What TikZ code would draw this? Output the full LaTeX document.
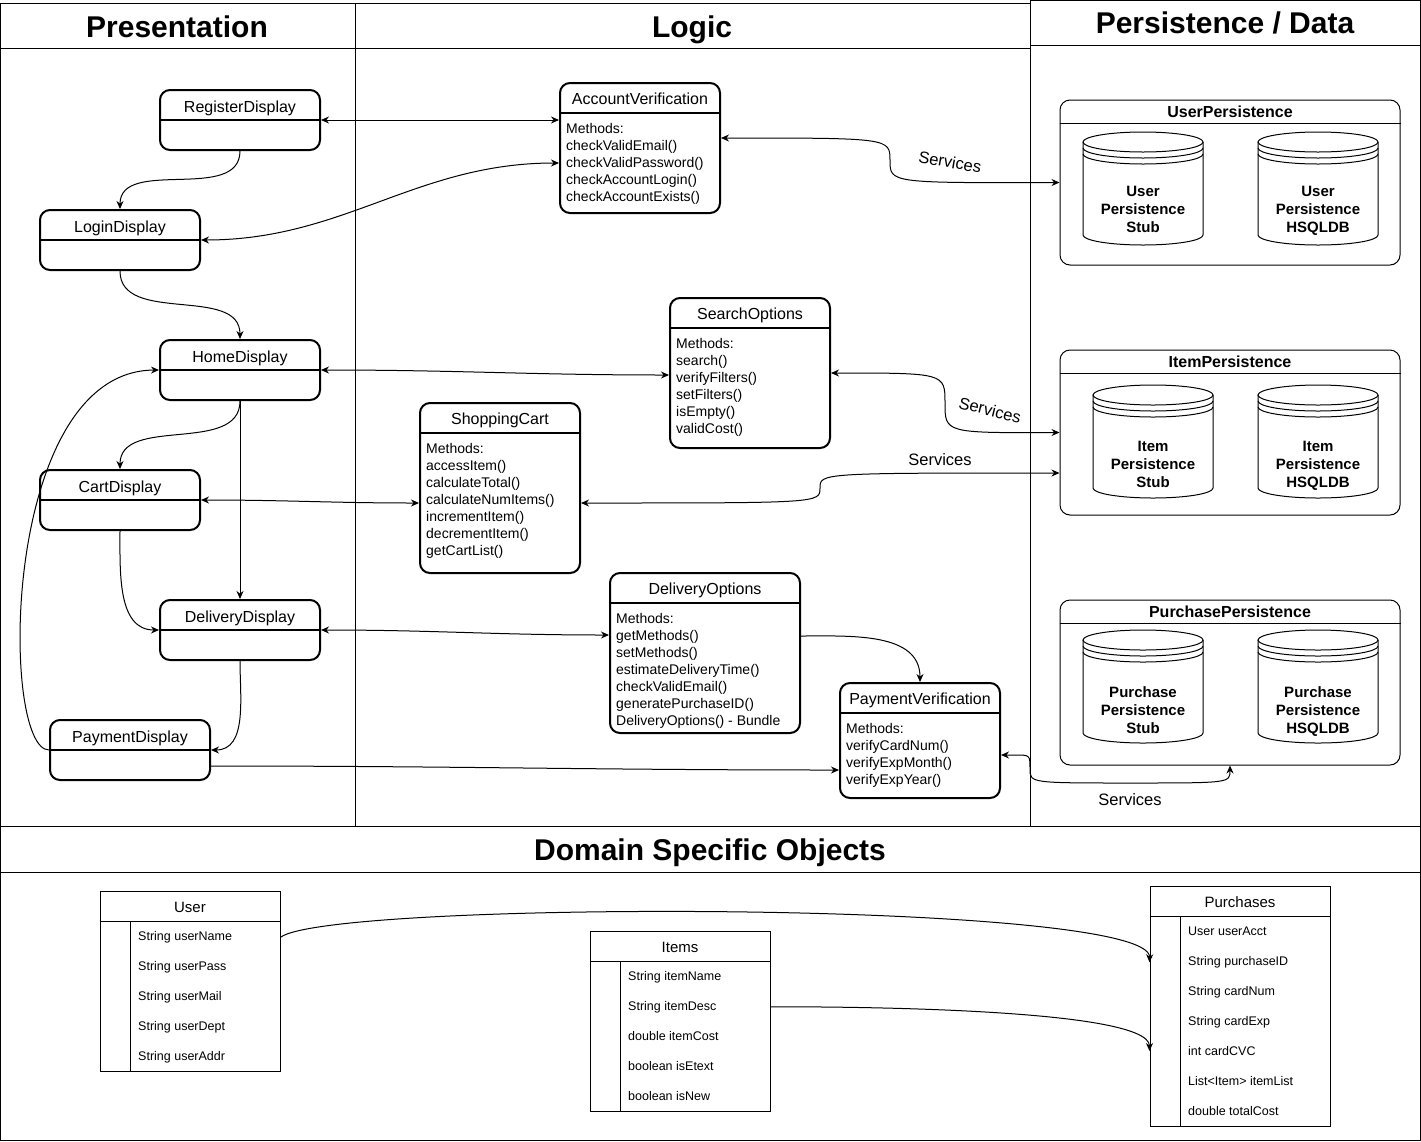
\documentclass[tikz,border=0pt]{standalone}
\usepackage{fontspec}
\setmainfont{Liberation Sans}
\usetikzlibrary{arrows.meta, positioning}

\begin{document}
\begin{tikzpicture}[x=1pt, y=-1pt]
\tikzstyle{lane} = [draw, line width=1pt]
\tikzstyle{lanetitle} = [anchor=base, inner sep=0pt, font=\fontsize{30}{35}\selectfont\bfseries]
\tikzstyle{screen} = [
	draw, rounded corners=10pt, line width=2pt,
	minimum width=160pt, inner sep=0pt,
	text height=22pt, text depth=38pt, %text sits in the upper half
	font=\fontsize{16}{19}\selectfont
]
\tikzstyle{logic} = [draw, rounded corners=10pt, line width=2pt, minimum width=160pt, inner sep=0pt]
\tikzstyle{logictitle} = [anchor=base, inner sep=0pt, font=\fontsize{16}{19}\selectfont]
\tikzstyle{methods} = [anchor=north west, align=left, inner sep=0pt, font=\fontsize{14}{17}\selectfont]
\tikzstyle{store} = [draw, rounded corners=10pt, line width=1pt, minimum width=340pt, minimum height=165pt, inner sep=0pt]
\tikzstyle{storetitle} = [anchor=base, inner sep=0pt, font=\fontsize{16}{19}\selectfont\bfseries]
\tikzstyle{dbtext} = [anchor=north, align=center, inner sep=0pt, font=\fontsize{15}{18}\selectfont\bfseries]
\tikzstyle{entity} = [draw, line width=1pt, minimum width=180pt, inner sep=0pt]
\tikzstyle{entitytitle} = [anchor=base, inner sep=0pt, font=\fontsize{15}{18}\selectfont]
\tikzstyle{field} = [anchor=base west, inner sep=0pt, font=\fontsize{12.5}{15}\selectfont]
\tikzstyle{services} = [inner sep=0pt, font=\fontsize{16.5}{20}\selectfont]
\tikzstyle{link} = [line width=1pt, -{Stealth[length=8pt,width=7pt]}]
\tikzstyle{duplex} = [line width=1pt, {Stealth[length=8pt,width=7pt]}-{Stealth[length=8pt,width=7pt]}]

\useasboundingbox (0,0) rectangle (1421,1141);

%lanes
\draw[lane] (0.5,3) rectangle (355,826);
\draw[lane] (0.5,48) -- (355,48);
\draw[lane] (355,3) rectangle (1030,826);
\draw[lane] (355,48) -- (1030,48);
\draw[lane] (1030,0.5) rectangle (1420,826);
\draw[lane] (1030,45) -- (1420,45);
\draw[lane] (0.5,826) rectangle (1420,1140);
\draw[lane] (0.5,872) -- (1420,872);
\node[lanetitle] (PresT) at (177,37.5) {Presentation};
\node[lanetitle] (LogicT) at (692,37.5) {Logic};
\node[lanetitle] (PersT) at (1225,33.5) {Persistence / Data};
\node[lanetitle] (DomT) at (710,860.5) {Domain Specific Objects};

%presentation
\node[screen] (Register) at (240,120) {RegisterDisplay};
\node[screen] (Login) at (120,240) {LoginDisplay};
\node[screen] (Home) at (240,370) {HomeDisplay};
\node[screen] (Cart) at (120,500) {CartDisplay};
\node[screen] (Delivery) at (240,630) {DeliveryDisplay};
\node[screen] (Payment) at (130,750) {PaymentDisplay};
\foreach \s in {Register, Login, Home, Cart, Delivery, Payment}
	\draw[line width=2pt] (\s.west) -- (\s.east);

%logic
\node[logic, minimum height=130pt] (AccVer) at (640,148) {};
\draw[line width=2pt] (AccVer.west |- 0,113) -- (AccVer.east |- 0,113);
\node[logictitle] (AccVerT) at (640,104.5) {AccountVerification};
\node[methods] (AccVerM) at (566,123) {Methods:\\checkValidEmail()\\checkValidPassword()\\checkAccountLogin()\\checkAccountExists()};

\node[logic, minimum height=150pt] (Search) at (750,373) {};
\draw[line width=2pt] (Search.west |- 0,328) -- (Search.east |- 0,328);
\node[logictitle] (SearchT) at (750,319.5) {SearchOptions};
\node[methods] (SearchM) at (676,338) {Methods:\\search()\\verifyFilters()\\setFilters()\\isEmpty()\\validCost()};

\node[logic, minimum height=170pt] (ShopCart) at (500,488) {};
\draw[line width=2pt] (ShopCart.west |- 0,433) -- (ShopCart.east |- 0,433);
\node[logictitle] (ShopCartT) at (500,424.5) {ShoppingCart};
\node[methods] (ShopCartM) at (426,443) {Methods:\\accessItem()\\calculateTotal()\\calculateNumItems()\\incrementItem()\\decrementItem()\\getCartList()};

\node[logic, minimum width=190pt, minimum height=160pt] (DelOpt) at (705,653) {};
\draw[line width=2pt] (DelOpt.west |- 0,603) -- (DelOpt.east |- 0,603);
\node[logictitle] (DelOptT) at (705,594.5) {DeliveryOptions};
\node[methods] (DelOptM) at (616,613) {Methods:\\getMethods()\\setMethods()\\estimateDeliveryTime()\\checkValidEmail()\\generatePurchaseID()\\DeliveryOptions() - Bundle};

\node[logic, minimum height=115pt] (PayVer) at (920,740.5) {};
\draw[line width=2pt] (PayVer.west |- 0,713) -- (PayVer.east |- 0,713);
\node[logictitle] (PayVerT) at (920,704.5) {PaymentVerification};
\node[methods] (PayVerM) at (846,723) {Methods:\\verifyCardNum()\\verifyExpMonth()\\verifyExpYear()};

%persistence
\node[store] (UserPers) at (1230,182.5) {};
\draw[line width=1pt] (UserPers.west |- 0,123) -- (UserPers.east |- 0,123);
\node[storetitle] (UserPersT) at (1230,117.5) {UserPersistence};
\node[store] (ItemPers) at (1230,432.5) {};
\draw[line width=1pt] (ItemPers.west |- 0,373) -- (ItemPers.east |- 0,373);
\node[storetitle] (ItemPersT) at (1230,367.5) {ItemPersistence};
\node[store] (PurchPers) at (1230,682.5) {};
\draw[line width=1pt] (PurchPers.west |- 0,623) -- (PurchPers.east |- 0,623);
\node[storetitle] (PurchPersT) at (1230,617.5) {PurchasePersistence};

%data stores
\foreach \cx/\ty in {1143/132, 1318/132, 1153/385, 1318/385, 1143/630, 1318/630} {
	\draw[line width=1pt] (\cx,\ty+10) ellipse [x radius=60pt, y radius=10pt];
	\draw[line width=1pt] (\cx-60,\ty+10) -- (\cx-60,\ty+103)
		arc[start angle=180, end angle=360, x radius=60pt, y radius=10pt] -- (\cx+60,\ty+10);
	\draw[line width=1pt] (\cx-60,\ty+16) arc[start angle=180, end angle=360, x radius=60pt, y radius=10pt];
	\draw[line width=1pt] (\cx-60,\ty+22) arc[start angle=180, end angle=360, x radius=60pt, y radius=10pt];
}
\node[dbtext] (UserStub) at (1143,186) {User\\Persistence\\Stub};
\node[dbtext] (UserDB) at (1318,186) {User\\Persistence\\HSQLDB};
\node[dbtext] (ItemStub) at (1153,441) {Item\\Persistence\\Stub};
\node[dbtext] (ItemDB) at (1318,441) {Item\\Persistence\\HSQLDB};
\node[dbtext] (PurchStub) at (1143,686) {Purchase\\Persistence\\Stub};
\node[dbtext] (PurchDB) at (1318,686) {Purchase\\Persistence\\HSQLDB};

%domain objects
\node[entity, minimum height=180pt] (User) at (190,981) {};
\draw[line width=1pt] (User.west |- 0,921) -- (User.east |- 0,921);
\draw[line width=1pt] (130,921) -- (130,1071);
\node[entitytitle] (UserT) at (190,912.5) {User};
\foreach \f [count=\i] in {String userName, String userPass, String userMail, String userDept, String userAddr}
	\node[field] (user\i) at (138,910.5+30*\i) {\f};

\node[entity, minimum height=180pt] (Items) at (680,1021) {};
\draw[line width=1pt] (Items.west |- 0,961) -- (Items.east |- 0,961);
\draw[line width=1pt] (620,961) -- (620,1111);
\node[entitytitle] (ItemsT) at (680,952) {Items};
\foreach \f [count=\i] in {String itemName, String itemDesc, double itemCost, boolean isEtext, boolean isNew}
	\node[field] (item\i) at (628,950+30*\i) {\f};

\node[entity, minimum height=240pt] (Purch) at (1240,1006) {};
\draw[line width=1pt] (Purch.west |- 0,916) -- (Purch.east |- 0,916);
\draw[line width=1pt] (1180,916) -- (1180,1126);
\node[entitytitle] (PurchT) at (1240,907.5) {Purchases};
\foreach \f [count=\i] in {User userAcct, String purchaseID, String cardNum, String cardExp, int cardCVC, List<Item> itemList, double totalCost}
	\node[field] (purch\i) at (1188,905.5+30*\i) {\f};

%screen flow
\draw[link] (Register.south) to[out=-90, in=90] (Login.north);
\draw[link] (Login.south) to[out=-90, in=90] (Home.north);
\draw[link] (Home.south) to[out=-90, in=90] (Cart.north);
\draw[link] (Home.south) -- (Delivery.north);
\draw[link] (Cart.south) to[out=-90, in=180] (Delivery.west);
\draw[link] (Delivery.south) to[out=-90, in=0] (Payment.east);
\draw[link] (Payment.west) .. controls (0,750) and (0,371) .. (Home.west);

%presentation to logic
\draw[duplex] (Register.east) -- (Register.east -| AccVer.west);
\draw[duplex] (Login.east) to[out=0, in=180] ([yshift=-15pt]AccVer.west);
\draw[duplex] (Home.east) to[out=0, in=180] ([yshift=-2pt]Search.west);
\draw[duplex] (Cart.east) to[out=0, in=180] ([yshift=-15pt]ShopCart.west);
\draw[duplex] (Delivery.east) to[out=0, in=180] ([yshift=18pt]DelOpt.west);
\draw[link] ([yshift=-16pt]Payment.east) to[out=0, in=180] ([yshift=-29.5pt]PayVer.west);
\draw[link] ([yshift=17pt]DelOpt.east) to[out=0, in=90] (PayVer.north);

%logic to persistence
\draw[duplex] ([yshift=10pt]AccVer.east) .. controls (890,138) .. (890,160.5)
	.. controls (890,183) .. (UserPers.west);
\draw[duplex] (Search.east) .. controls (945,373) .. (945,403)
	.. controls (945,433) .. (ItemPers.west);
\draw[duplex] ([yshift=-15pt]ShopCart.east) .. controls (820,503) .. (820,488)
	.. controls (820,473) .. ([yshift=-40.5pt]ItemPers.west);
\draw[duplex] ([yshift=-14.5pt]PayVer.east) -- (1015,755) .. controls (1030,755) .. (1030,769)
	.. controls (1030,783) .. (1130,783) .. controls (1230,783) .. (PurchPers.south);
\node[services, rotate=-10] (Serv1) at (950,162) {Services};
\node[services, rotate=-14] (Serv2) at (990,410) {Services};
\node[services] (Serv3) at (940,460) {Services};
\node[services] (Serv4) at (1130,800) {Services};

%domain links
\draw[link] (User.east |- user1) .. controls (330,900) and (1151,900) .. (Purch.west |- purch2);
\draw[link] (Items.east |- item2) to[out=0, in=90, looseness=0.3] (Purch.west |- purch5);
\end{tikzpicture}
\end{document}
